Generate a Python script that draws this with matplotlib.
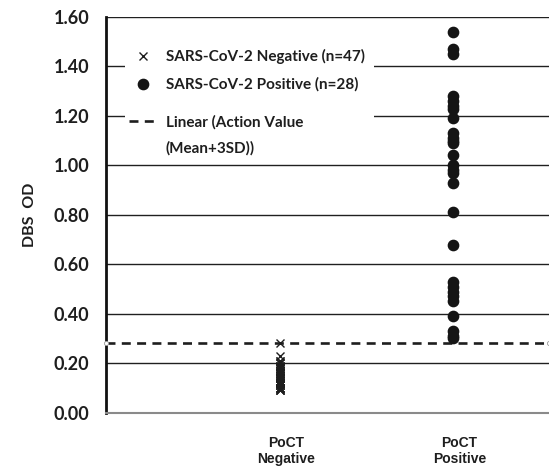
import matplotlib
matplotlib.use("Agg")
import matplotlib.pyplot as plt
import matplotlib.transforms as mtransforms

# values
categories = ["PoCT\nNegative", "PoCT\nPositive"]
cat_pos = [1, 2]
neg_od = [0.28, 0.23, 0.21, 0.21, 0.20, 0.20, 0.19, 0.19, 0.19, 0.18, 0.18, 0.18,
          0.17, 0.17, 0.17, 0.17, 0.16, 0.16, 0.16, 0.16, 0.15, 0.15, 0.15, 0.15,
          0.14, 0.14, 0.14, 0.14, 0.13, 0.13, 0.13, 0.13, 0.12, 0.12, 0.12, 0.12,
          0.11, 0.11, 0.11, 0.11, 0.10, 0.10, 0.10, 0.10, 0.09, 0.09, 0.09]
pos_od = [1.54, 1.47, 1.45, 1.28, 1.26, 1.24, 1.23, 1.19, 1.13, 1.11, 1.10, 1.09,
          1.04, 1.00, 0.98, 0.97, 0.93, 0.81, 0.68, 0.53, 0.51, 0.49, 0.47, 0.45,
          0.39, 0.33, 0.31, 0.30]
action_value = 0.28
yticks = [0.0, 0.2, 0.4, 0.6, 0.8, 1.0, 1.2, 1.4, 1.6]

calib = "Lato"              # stand-in for Calibri
arial = "Liberation Sans"
ink = "#1e1e1e"

fig = plt.figure(figsize=(5.49, 4.67), dpi=100)
ax = fig.add_axes([0.1931, 0.1163, 0.8069, 0.8473])
ax.set_xlim(0, 2.55)
ax.set_ylim(0, 1.6)

for y in yticks[1:]:
    ax.axhline(y, color="#202020", lw=1.0, zorder=0)

h_neg, = ax.plot([cat_pos[0]] * len(neg_od), neg_od, ls="none", marker="x", ms=6,
                 mew=1, color=ink, zorder=3)
h_pos, = ax.plot([cat_pos[1]] * len(pos_od), pos_od, ls="none", marker="o", ms=7.4,
                 color="#151515", zorder=3)
xl = ax.get_xlim()
h_act, = ax.plot(xl, [action_value, action_value], color=ink, lw=1.9,
                 ls=(0, (3.4, 2.4)), zorder=2)
ax.plot(xl, [action_value, action_value], ls="none", marker="o", ms=3,
        mfc="white", mec="#999999", mew=0.6, zorder=4, clip_on=False)
h_blank, = ax.plot([], [], ls="none")

for s in ["top", "right"]:
    ax.spines[s].set_visible(False)
ax.spines["left"].set_linewidth(2)
ax.spines["left"].set_color("#111111")
ax.spines["bottom"].set_linewidth(1.5)
ax.spines["bottom"].set_color("#8a8a8a")

ax.set_yticks(yticks)
ax.set_yticklabels([f"{v:.2f}" for v in yticks], fontfamily=calib,
                   fontweight="bold", fontsize=13, color=ink)
ax.tick_params(axis="y", length=0, pad=12)

ax.set_xticks(cat_pos)
ax.set_xticklabels(categories, fontfamily=arial, fontweight="bold", fontsize=10,
                   color=ink, linespacing=1.15)
ax.tick_params(axis="x", length=0, pad=17)
shift = mtransforms.ScaledTranslation(6 / 100, 0, fig.dpi_scale_trans)
for lab in ax.get_xticklabels():
    lab.set_transform(lab.get_transform() + shift)

ax.set_ylabel("DBS  OD", fontfamily=calib, fontweight="bold", fontsize=11.5,
              color=ink)
ax.yaxis.set_label_coords(-0.155, 0.5)

leg_kw = dict(loc="upper left", mode="expand", borderaxespad=0, frameon=True,
              fancybox=False, edgecolor="none", facecolor="white", framealpha=1,
              prop={"family": calib, "weight": "bold", "size": 11.0},
              handlelength=1.8, handletextpad=0.58, borderpad=0.3,
              labelcolor=ink)
leg_a = ax.legend([h_neg, h_pos],
                  ["SARS-CoV-2 Negative (n=47)", "SARS-CoV-2 Positive (n=28)"],
                  bbox_to_anchor=(0.042, 0.0, 0.563, 0.930), labelspacing=0.86,
                  **leg_kw)
leg_a.set_zorder(5)
ax.add_artist(leg_a)
leg_b = ax.legend([h_act, h_blank], ["Linear (Action Value", "(Mean+3SD))"],
                  bbox_to_anchor=(0.042, 0.0, 0.563, 0.764), labelspacing=0.76,
                  **leg_kw)
leg_b.set_zorder(5)

fig.savefig("out.png", dpi=100)
